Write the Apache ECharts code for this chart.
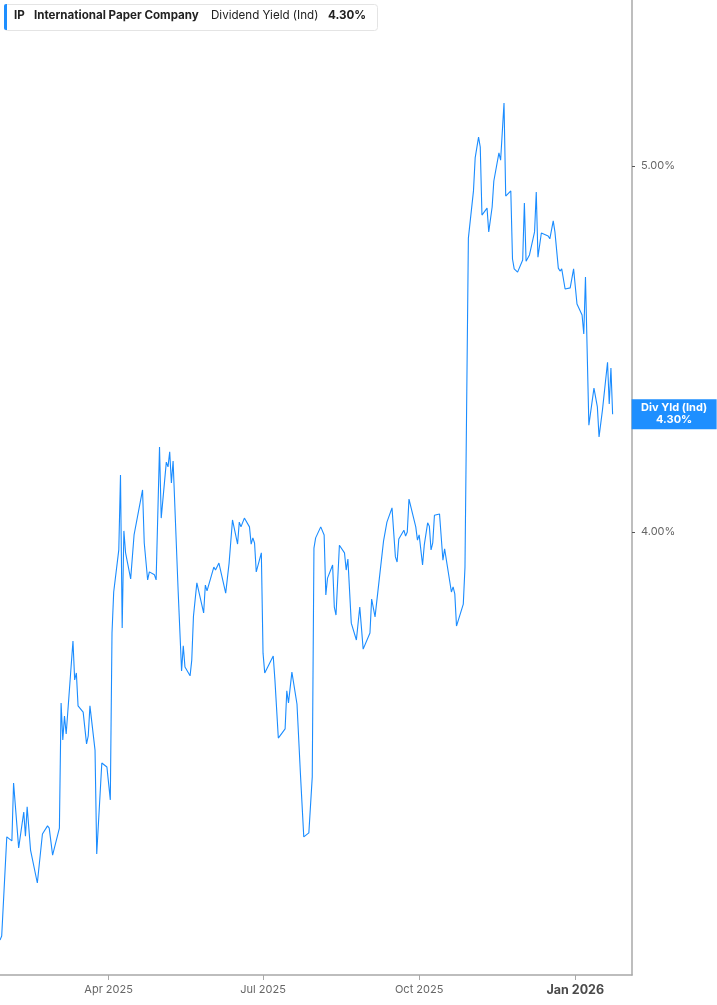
<!DOCTYPE html>
<html>
<head>
<meta charset="utf-8">
<script src="https://cdn.jsdelivr.net/npm/echarts@6/dist/echarts.min.js"></script>
<style>
  html, body { margin: 0; padding: 0; background: #fff; }
  #chart { width: 717px; height: 1005px; }
</style>
</head>
<body>
<div id="chart"></div>
<script>
// ---------- data ----------
const ticker = 'IP';
const companyName = 'International Paper Company';
const metricName = 'Dividend Yield (Ind)';
const latestYieldText = '4.30%';
const badgeTitle = 'Div Yld (Ind)';

const dates = [
  '2025-01-27','2025-01-28','2025-01-31','2025-02-03','2025-02-04','2025-02-05','2025-02-07','2025-02-10','2025-02-11','2025-02-12',
  '2025-02-14','2025-02-18','2025-02-19','2025-02-21','2025-02-24','2025-02-25','2025-02-27','2025-02-28','2025-03-03','2025-03-04',
  '2025-03-05','2025-03-06','2025-03-07','2025-03-11','2025-03-12','2025-03-13','2025-03-14','2025-03-17','2025-03-19','2025-03-20',
  '2025-03-21','2025-03-24','2025-03-25','2025-03-28','2025-03-31','2025-04-02','2025-04-03','2025-04-04','2025-04-07','2025-04-08',
  '2025-04-09','2025-04-10','2025-04-11','2025-04-14','2025-04-16','2025-04-17','2025-04-21','2025-04-22','2025-04-24','2025-04-25',
  '2025-04-28','2025-04-29','2025-05-01','2025-05-02','2025-05-05','2025-05-06','2025-05-07','2025-05-08','2025-05-09','2025-05-12',
  '2025-05-13','2025-05-14','2025-05-15','2025-05-16','2025-05-19','2025-05-20','2025-05-21','2025-05-22','2025-05-23','2025-05-27',
  '2025-05-28','2025-05-29','2025-06-02','2025-06-03','2025-06-05','2025-06-09','2025-06-11','2025-06-12','2025-06-13','2025-06-16',
  '2025-06-17','2025-06-18','2025-06-20','2025-06-23','2025-06-24','2025-06-25','2025-06-26','2025-06-27','2025-06-30','2025-07-01',
  '2025-07-02','2025-07-03','2025-07-07','2025-07-08','2025-07-10','2025-07-11','2025-07-14','2025-07-15','2025-07-16','2025-07-18',
  '2025-07-21','2025-07-23','2025-07-25','2025-07-28','2025-07-30','2025-07-31','2025-08-01','2025-08-04','2025-08-05','2025-08-06',
  '2025-08-07','2025-08-08','2025-08-11','2025-08-12','2025-08-13','2025-08-15','2025-08-18','2025-08-19','2025-08-20','2025-08-22',
  '2025-08-25','2025-08-27','2025-08-29','2025-09-02','2025-09-03','2025-09-05','2025-09-10','2025-09-11','2025-09-12','2025-09-15',
  '2025-09-17','2025-09-18','2025-09-19','2025-09-22','2025-09-23','2025-09-24','2025-09-25','2025-09-26','2025-09-29','2025-09-30',
  '2025-10-01','2025-10-03','2025-10-04','2025-10-06','2025-10-07','2025-10-08','2025-10-09','2025-10-10','2025-10-13','2025-10-15',
  '2025-10-16','2025-10-17','2025-10-20','2025-10-21','2025-10-22','2025-10-23','2025-10-27','2025-10-28','2025-10-30','2025-10-31',
  '2025-11-02','2025-11-03','2025-11-05','2025-11-06','2025-11-07','2025-11-10','2025-11-11','2025-11-13','2025-11-14','2025-11-17',
  '2025-11-18','2025-11-20','2025-11-21','2025-11-24','2025-11-25','2025-11-26','2025-11-28','2025-12-01','2025-12-02','2025-12-03',
  '2025-12-05','2025-12-08','2025-12-09','2025-12-10','2025-12-11','2025-12-12','2025-12-16','2025-12-17','2025-12-19','2025-12-20',
  '2025-12-22','2025-12-23','2025-12-24','2025-12-26','2025-12-29','2025-12-30','2025-12-31','2026-01-02','2026-01-05','2026-01-06',
  '2026-01-07','2026-01-09','2026-01-12','2026-01-14','2026-01-15','2026-01-17','2026-01-20','2026-01-21','2026-01-22','2026-01-23'
];

const yieldPct = [
  2.885,2.896,3.167,3.156,3.314,3.314,3.137,3.235,3.169,3.249,
  3.131,3.041,3.046,3.175,3.197,3.191,3.117,3.112,3.191,3.533,
  3.432,3.497,3.448,3.702,3.596,3.615,3.525,3.508,3.421,3.443,
  3.525,3.404,3.120,3.369,3.358,3.268,3.724,3.836,3.951,4.156,
  3.738,4.003,3.943,3.872,3.992,3.997,4.115,3.970,3.869,3.891,
  3.883,3.869,4.232,4.038,4.191,4.178,4.219,4.134,4.194,3.836,
  3.833,3.620,3.689,3.631,3.607,3.650,3.770,3.773,3.861,3.779,
  3.855,3.839,3.904,3.896,3.915,3.833,3.915,3.915,4.033,3.967,
  4.027,4.014,4.038,4.014,3.967,3.984,3.970,3.891,3.943,3.669,
  3.615,3.612,3.661,3.596,3.437,3.437,3.462,3.566,3.533,3.617,
  3.530,3.342,3.167,3.178,3.331,3.956,3.984,4.014,4.011,3.992,
  3.828,3.874,3.910,3.795,3.773,3.964,3.943,3.896,3.926,3.751,
  3.705,3.795,3.680,3.724,3.817,3.768,3.975,3.973,4.027,4.066,
  3.932,3.918,3.981,4.005,3.989,4.000,4.090,4.090,4.014,3.978,
  3.992,3.910,3.964,4.025,4.016,3.951,3.970,4.046,4.049,3.923,
  3.954,3.954,3.836,3.850,3.831,3.743,3.803,3.904,4.803,4.803,
  4.932,5.022,5.079,5.052,4.866,4.885,4.820,4.888,4.959,5.036,
  5.016,5.172,4.918,4.932,4.746,4.719,4.710,4.743,4.899,4.740,
  4.757,4.820,4.929,4.751,4.754,4.817,4.809,4.801,4.850,4.820,
  4.721,4.713,4.719,4.664,4.667,4.672,4.719,4.623,4.593,4.541,
  4.697,4.292,4.393,4.342,4.260,4.333,4.464,4.350,4.448,4.322
];

const xTickDates = ['2025-04-01', '2025-07-01', '2025-10-01', '2026-01-01'];
const xTickLabels = ['Apr 2025', 'Jul 2025', 'Oct 2025', 'Jan 2026'];
const yTickValues = [4, 5];
const xRange = ['2025-01-27', '2026-02-03T10:00:00'];
const yRange = [2.7896, 5.4536];

// ---------- chart ----------
const toTime = s => new Date(s.length === 10 ? s + 'T00:00:00' : s).getTime();
const xTickTimes = xTickDates.map(toTime);
const seriesData = dates.map((d, i) => [toTime(d), yieldPct[i]]);
const lastIdx = dates.length - 1;

const FONT = 'Inter, "Noto Sans", sans-serif';
const chart = echarts.init(document.getElementById('chart'), null, { renderer: 'canvas' });

chart.setOption({
  animation: false,
  backgroundColor: '#ffffff',
  grid: { left: 0, right: 85, top: 0, bottom: 30, containLabel: false },
  xAxis: {
    type: 'value',
    min: toTime(xRange[0]),
    max: toTime(xRange[1]),
    axisLine: { show: true, onZero: false, lineStyle: { color: '#a8a8a8', width: 1.5 } },
    axisTick: { show: true, customValues: xTickTimes, length: 5, lineStyle: { color: '#a8a8a8', width: 1 } },
    axisLabel: {
      customValues: xTickTimes,
      margin: 9,
      fontFamily: FONT,
      fontSize: 11,
      color: '#666',
      formatter: function (val) {
        let idx = -1;
        for (let i = 0; i < xTickTimes.length; i++) {
          if (Math.abs(xTickTimes[i] - val) < 3600 * 1000) idx = i;
        }
        if (idx < 0) return '';
        const lbl = xTickLabels[idx];
        return lbl.indexOf('Jan') === 0 ? '{yr|' + lbl + '}' : lbl;
      },
      rich: {
        yr: { fontFamily: FONT, fontSize: 12.5, fontWeight: 'bold', color: '#4a4a4a' }
      }
    },
    splitLine: { show: false }
  },
  yAxis: {
    type: 'value',
    position: 'right',
    min: yRange[0],
    max: yRange[1],
    axisLine: { show: true, lineStyle: { color: '#a8a8a8', width: 1.5 } },
    axisTick: { show: true, customValues: yTickValues, length: 3, lineStyle: { color: '#555', width: 1 } },
    axisLabel: {
      customValues: yTickValues,
      margin: 9,
      fontFamily: FONT,
      fontSize: 11,
      color: '#666',
      formatter: v => v.toFixed(2) + '%'
    },
    splitLine: { show: false }
  },
  series: [{
    type: 'line',
    data: seriesData,
    showSymbol: false,
    symbol: 'none',
    clip: false,
    lineStyle: { color: '#1a8cff', width: 1.1 },
    itemStyle: { color: '#1a8cff' },
    markPoint: {
      symbol: 'rect',
      symbolSize: [85, 30],
      symbolOffset: [61.5, 0],
      silent: true,
      itemStyle: { color: '#1e8fff' },
      label: {
        show: true,
        position: 'inside',
        color: '#fff',
        fontFamily: FONT,
        fontSize: 11,
        fontWeight: 'bold',
        lineHeight: 12,
        formatter: badgeTitle + '\n' + latestYieldText
      },
      data: [{ coord: [seriesData[lastIdx][0], seriesData[lastIdx][1]] }]
    }
  }],
  graphic: [
    {
      type: 'rect', left: 4, top: 4, z: 10,
      shape: { width: 373, height: 26, r: 3 },
      style: { fill: '#ffffff', stroke: '#e4e4e4', lineWidth: 1 }
    },
    {
      type: 'rect', left: 4, top: 4, z: 11,
      shape: { width: 3, height: 26, r: [2, 0, 0, 2] },
      style: { fill: '#1e8fff' }
    },
    {
      type: 'text', left: 14, top: 10, z: 12,
      style: { text: ticker, font: 'bold 11.6px ' + FONT, fill: '#222' }
    },
    {
      type: 'text', left: 34, top: 10, z: 12,
      style: { text: companyName, font: 'bold 11.6px ' + FONT, fill: '#222' }
    },
    {
      type: 'text', left: 211, top: 10, z: 12,
      style: { text: metricName, font: '11.6px ' + FONT, fill: '#222' }
    },
    {
      type: 'text', left: 328, top: 10, z: 12,
      style: { text: latestYieldText, font: 'bold 11.6px ' + FONT, fill: '#222' }
    }
  ]
});
</script>
</body>
</html>
